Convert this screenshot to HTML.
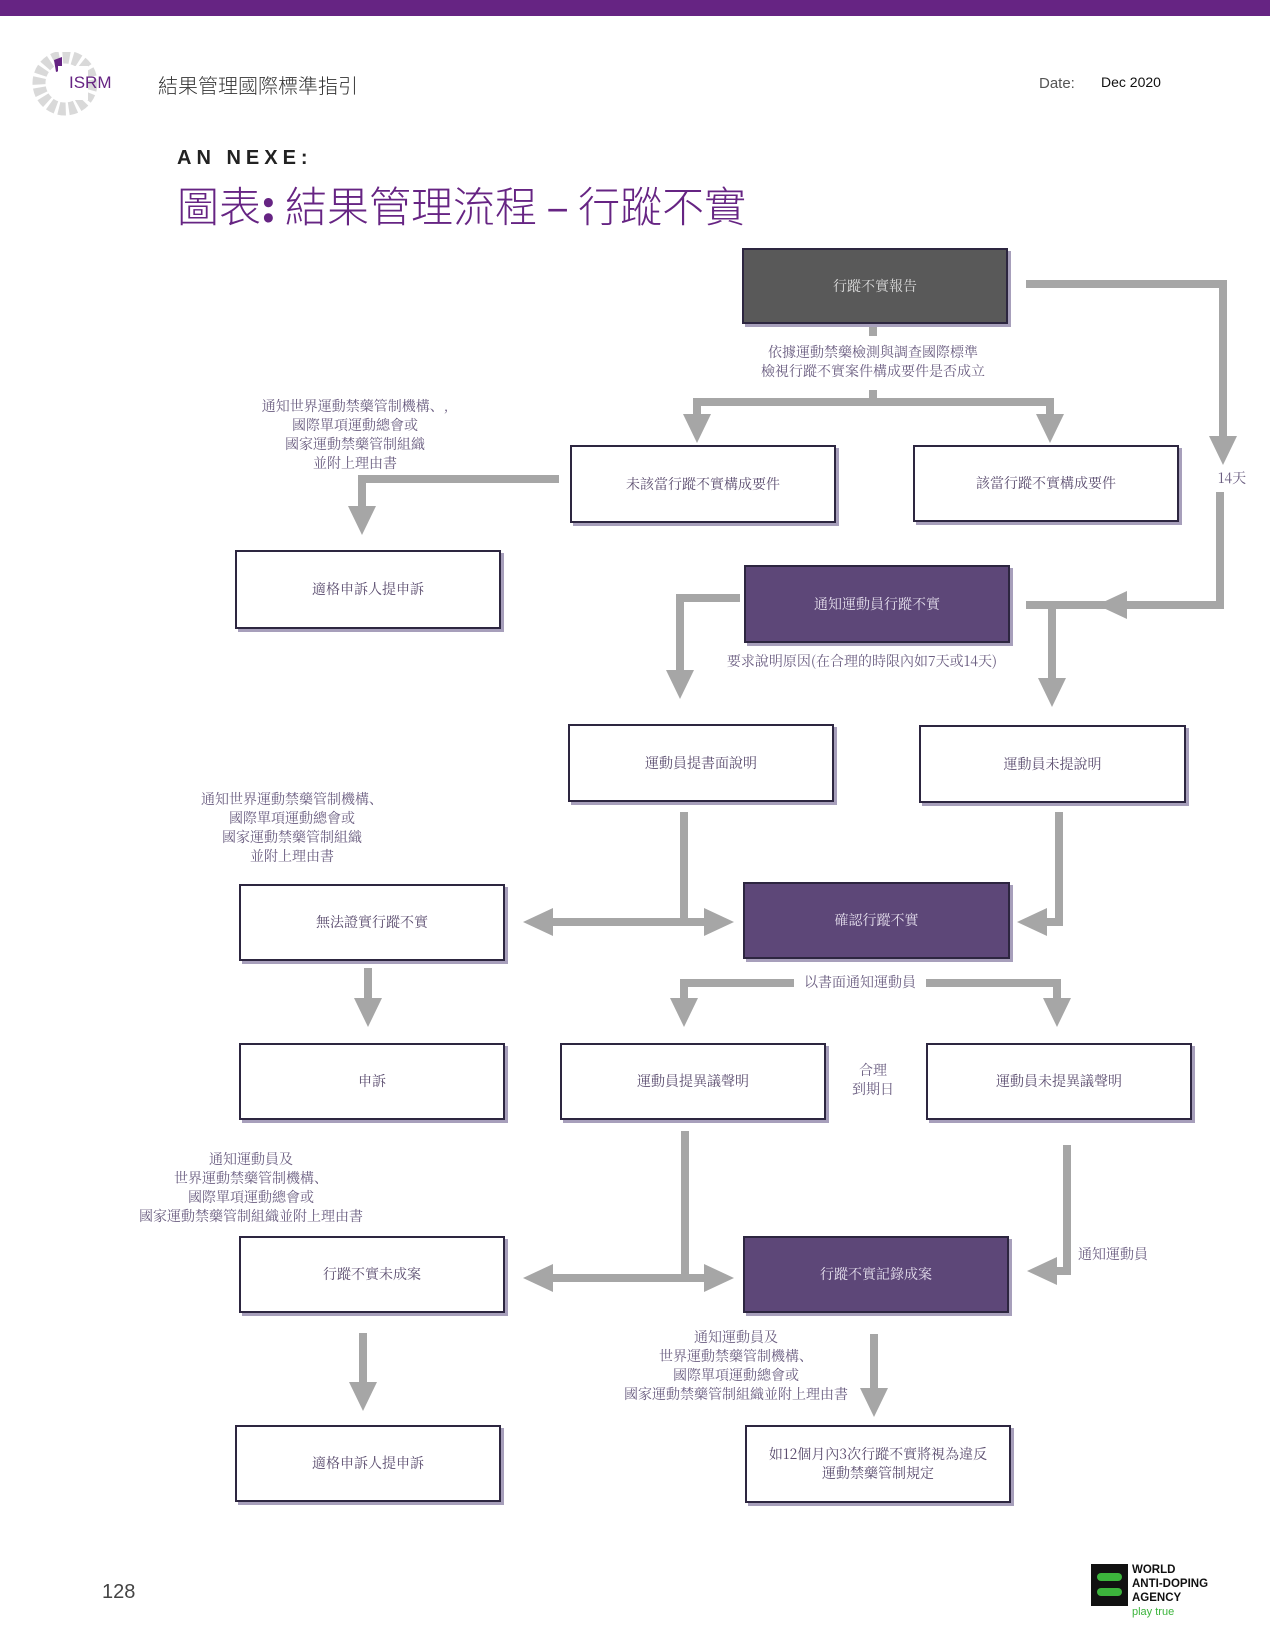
<!DOCTYPE html>
<html><head><meta charset="utf-8"><style>
html,body{margin:0;padding:0;background:#fff}
body{width:1270px;height:1648px;position:relative;overflow:hidden;font-family:"Liberation Sans","Noto Sans CJK TC",sans-serif}
.bar{position:absolute;left:0;top:0;width:1270px;height:16px;background:#662483}
.t{position:absolute;white-space:nowrap}
.box{position:absolute;box-sizing:border-box;border:2px solid #2d2640;background:#fff;box-shadow:3px 3px 0 #a79fbb;display:flex;align-items:center;justify-content:center;text-align:center;font-family:"Noto Serif CJK SC","Liberation Serif",serif;font-size:14px;color:#5a4c6e;line-height:19px}
.p{background:#5d4778;color:#e6e0ee}
.d{background:#595959;color:#ddd}
.n{position:absolute;text-align:center;font-family:"Noto Serif CJK SC","Liberation Serif",serif;font-size:14px;color:#6a5d80;line-height:19px;white-space:nowrap}
svg{position:absolute;left:0;top:0}
</style></head><body>
<div class="bar"></div>
<svg width="90" height="70" style="left:28px;top:52px" viewBox="0 0 90 70">
<g fill="#d9d9d9">
<circle cx="37" cy="31" r="26" fill="none" stroke="#d9d9d9" stroke-width="13" stroke-dasharray="7 3"/>
</g>
<path d="M26 8 L34 5 L34 18 L28 20 Z" fill="#662483"/>
<rect x="30" y="14" width="30" height="34" fill="#fff"/>
</svg>
<div class="t" style="left:69px;top:73px;font-size:17px;color:#662483">ISRM</div>
<div class="t" style="left:158px;top:70px;font-size:20px;color:#333;font-family:'Noto Sans CJK TC',sans-serif;font-weight:300">結果管理國際標準指引</div>
<div class="t" style="left:1039px;top:75px;font-size:15px;color:#555">Date:</div>
<div class="t" style="left:1101px;top:74px;font-size:14px;color:#111">Dec 2020</div>
<div class="t" style="left:177px;top:147px;font-size:20px;font-weight:bold;color:#222;letter-spacing:5px">AN NEXE:</div>
<div class="t" style="left:177px;top:180px;font-size:42px;color:#662483;font-family:'Noto Sans CJK TC',sans-serif;font-weight:300;line-height:50px">圖表<b style="font-weight:900">:</b> 結果管理流程 <b>–</b> 行蹤不實</div>

<svg width="1270" height="1648">
<g stroke="#a6a6a6" stroke-width="8" fill="none">
<polyline points="873,324 873,336"/>
<polyline points="873,390 873,402"/>
<polyline points="697,418 697,402 1050,402 1050,418"/>
<polyline points="1026,284 1223,284 1223,440"/>
<polyline points="1220,492 1220,605 1120,605"/>
<polyline points="1026,605 1120,605"/>
<polyline points="1052,605 1052,680"/>
<polyline points="559,479 362,479 362,508"/>
<polyline points="740,598 680,598 680,672"/>
<polyline points="684,812 684,922 705,922"/>
<polyline points="550,922 705,922"/>
<polyline points="1059,812 1059,922 1045,922"/>
<polyline points="794,983 684,983 684,1000"/>
<polyline points="926,983 1057,983 1057,1000"/>
<polyline points="368,968 368,1000"/>
<polyline points="685,1131 685,1278 705,1278"/>
<polyline points="550,1278 705,1278"/>
<polyline points="1067,1145 1067,1271 1055,1271"/>
<polyline points="363,1333 363,1385"/>
<polyline points="874,1334 874,1390"/>
</g>
<g fill="#a6a6a6">
<polygon points="683,414 711,414 697,443"/>
<polygon points="1036,414 1064,414 1050,443"/>
<polygon points="1209,436 1237,436 1223,465"/>
<polygon points="1127,591 1127,619 1097,605"/>
<polygon points="348,506 376,506 362,535"/>
<polygon points="666,670 694,670 680,699"/>
<polygon points="1038,678 1066,678 1052,707"/>
<polygon points="704,908 704,936 734,922"/>
<polygon points="553,908 553,936 523,922"/>
<polygon points="1047,908 1047,936 1017,922"/>
<polygon points="670,998 698,998 684,1027"/>
<polygon points="1043,998 1071,998 1057,1027"/>
<polygon points="354,998 382,998 368,1027"/>
<polygon points="704,1264 704,1292 734,1278"/>
<polygon points="553,1264 553,1292 523,1278"/>
<polygon points="1057,1257 1057,1285 1027,1271"/>
<polygon points="349,1382 377,1382 363,1411"/>
<polygon points="860,1388 888,1388 874,1417"/>
</g>
</svg>

<div class="box d" style="left:742px;top:248px;width:266px;height:76px">行蹤不實報告</div>
<div class="n" style="left:700px;top:343px;width:346px">依據運動禁藥檢測與調查國際標準<br>檢視行蹤不實案件構成要件是否成立</div>
<div class="n" style="left:230px;top:397px;width:250px">通知世界運動禁藥管制機構、,<br>國際單項運動總會或<br>國家運動禁藥管制組織<br>並附上理由書</div>
<div class="box" style="left:570px;top:445px;width:266px;height:78px">未該當行蹤不實構成要件</div>
<div class="box" style="left:913px;top:445px;width:266px;height:77px">該當行蹤不實構成要件</div>
<div class="n" style="left:1215px;top:469px;width:34px">14天</div>
<div class="box" style="left:235px;top:550px;width:266px;height:79px">適格申訴人提申訴</div>
<div class="box p" style="left:744px;top:565px;width:266px;height:78px">通知運動員行蹤不實</div>
<div class="n" style="left:720px;top:652px;width:284px">要求說明原因(在合理的時限內如7天或14天)</div>
<div class="box" style="left:568px;top:724px;width:266px;height:78px">運動員提書面說明</div>
<div class="box" style="left:919px;top:725px;width:267px;height:78px">運動員未提說明</div>
<div class="n" style="left:167px;top:790px;width:250px">通知世界運動禁藥管制機構、<br>國際單項運動總會或<br>國家運動禁藥管制組織<br>並附上理由書</div>
<div class="box" style="left:239px;top:884px;width:266px;height:77px">無法證實行蹤不實</div>
<div class="box p" style="left:743px;top:882px;width:267px;height:77px">確認行蹤不實</div>
<div class="n" style="left:798px;top:973px;width:124px">以書面通知運動員</div>
<div class="box" style="left:239px;top:1043px;width:266px;height:77px">申訴</div>
<div class="box" style="left:560px;top:1043px;width:266px;height:77px">運動員提異議聲明</div>
<div class="n" style="left:843px;top:1061px;width:60px">合理<br>到期日</div>
<div class="box" style="left:926px;top:1043px;width:266px;height:77px">運動員未提異議聲明</div>
<div class="n" style="left:111px;top:1150px;width:280px">通知運動員及<br>世界運動禁藥管制機構、<br>國際單項運動總會或<br>國家運動禁藥管制組織並附上理由書</div>
<div class="box" style="left:239px;top:1236px;width:266px;height:77px">行蹤不實未成案</div>
<div class="box p" style="left:743px;top:1236px;width:266px;height:77px">行蹤不實記錄成案</div>
<div class="n" style="left:1078px;top:1245px;width:80px;text-align:left">通知運動員</div>
<div class="n" style="left:596px;top:1328px;width:280px">通知運動員及<br>世界運動禁藥管制機構、<br>國際單項運動總會或<br>國家運動禁藥管制組織並附上理由書</div>
<div class="box" style="left:235px;top:1425px;width:266px;height:77px">適格申訴人提申訴</div>
<div class="box" style="left:745px;top:1425px;width:266px;height:78px">如12個月內3次行蹤不實將視為違反<br>運動禁藥管制規定</div>
<div class="t" style="left:102px;top:1581px;font-size:20px;color:#444">128</div>
<div style="position:absolute;left:1091px;top:1564px;width:37px;height:42px;background:#111"></div>
<div style="position:absolute;left:1097px;top:1573px;width:25px;height:8px;background:#3cb43c;border-radius:4px"></div>
<div style="position:absolute;left:1097px;top:1588px;width:25px;height:8px;background:#3cb43c;border-radius:4px"></div>
<div class="t" style="left:1132px;top:1563px;font-size:11.5px;font-weight:bold;color:#111;line-height:14px">WORLD<br>ANTI-DOPING<br>AGENCY</div>
<div class="t" style="left:1132px;top:1606px;font-size:11px;color:#3cb43c">play true</div>
</body></html>
